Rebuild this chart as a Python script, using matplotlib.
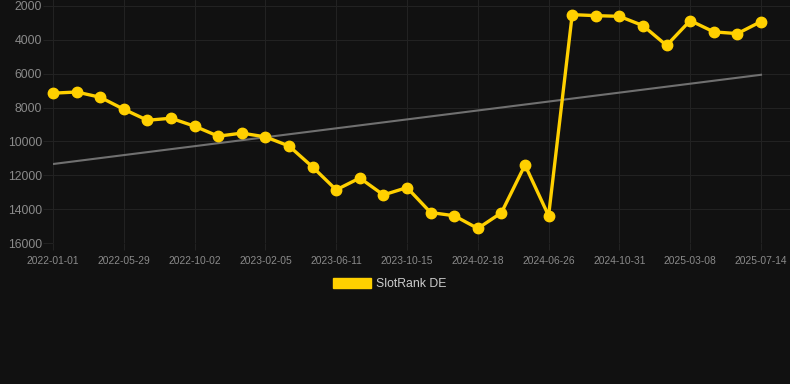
import numpy as np
import matplotlib
matplotlib.use("Agg")
import matplotlib.pyplot as plt
from matplotlib.patches import Patch

# Data
tick_labels = ["2022-01-01", "2022-05-29", "2022-10-02", "2023-02-05", "2023-06-11",
               "2023-10-15", "2024-02-18", "2024-06-26", "2024-10-31", "2025-03-08",
               "2025-07-14"]
rank_values = [7150, 7080, 7390, 8100, 8750, 8630, 9100, 9690, 9510, 9730,
               10270, 11510, 12860, 12160, 13160, 12725, 14200, 14390, 15140, 14215,
               11390, 14390, 2510, 2570, 2610, 3160, 4330, 2860, 3530, 3630, 2920]
series_name = "SlotRank DE"
y_ticks = [2000, 4000, 6000, 8000, 10000, 12000, 14000, 16000]

BG = "#111111"
GRID = "#222222"
YELLOW = "#FFD000"

plt.rcParams['font.family'] = ['Liberation Sans', 'DejaVu Sans']

W, H = 790, 384
fig = plt.figure(figsize=(W / 100, H / 100), dpi=100, facecolor=BG)
ax = fig.add_axes([53 / W, (H - 243) / H, (W - 53) / W, 243 / H])
ax.set_facecolor(BG)

x = np.arange(len(rank_values))
y = np.array(rank_values, dtype=float)

# trend line (linear fit)
coef = np.polyfit(x, y, 1)
ax.plot(x, np.polyval(coef, x), color="#707070", lw=1.5, zorder=2)

ax.plot(x, y, color=YELLOW, lw=2.4, marker="o", markersize=7.5,
        markerfacecolor=YELLOW, markeredgecolor=YELLOW, zorder=3, clip_on=False)

px_per_idx = 708 / 30
ax.set_xlim(0, (W - 53) / px_per_idx)
units_per_px = 14000 / 237
ax.set_ylim(16000, 2000 - 6 * units_per_px)

tick_pos = np.arange(0, len(rank_values), 3)
ax.set_xticks(tick_pos)
ax.set_xticklabels(tick_labels)
ax.set_yticks(y_ticks)
ax.set_yticklabels([str(v) for v in y_ticks])

ax.grid(True, color=GRID, lw=0.8, zorder=0)
for s in ax.spines.values():
    s.set_visible(False)
ax.tick_params(axis='x', colors=GRID, length=5, width=0.8, pad=4, labelcolor="#8a8a8a", labelsize=7.4)
ax.tick_params(axis='y', colors=GRID, length=7, width=0.8, pad=1, labelcolor="#8a8a8a", labelsize=8.8)

handle = Patch(facecolor=YELLOW, edgecolor=YELLOW)
leg = fig.legend([handle], [series_name], loc="center", bbox_to_anchor=(390 / W, (H - 284) / H),
                 frameon=False, handlelength=3.05, handleheight=0.95, handletextpad=0.45,
                 fontsize=8.8, labelcolor="#cccccc")

fig.savefig("out.png", dpi=100, facecolor=BG)
